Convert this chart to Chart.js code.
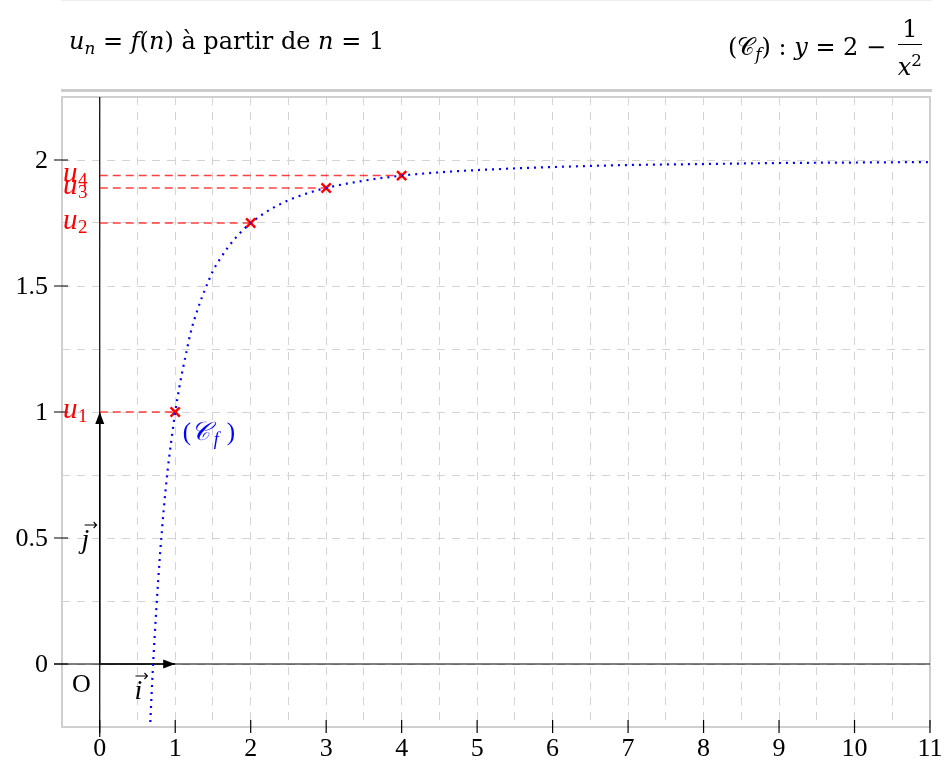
<!DOCTYPE html>
<html>
<head>
<meta charset="utf-8">
<script src="https://cdn.jsdelivr.net/npm/chart.js@4.4.0/dist/chart.umd.min.js"></script>
<style>
  body { margin: 0; background: #fff; font-family: "DejaVu Serif", serif; }
  #wrap { position: relative; width: 945px; height: 762px; overflow: hidden; }
  #myChart { position: absolute; left: 0; top: 0; }
  #head { position: absolute; left: 61px; top: 0; width: 871px; height: 88px;
          border-top: 1px solid #eee; border-bottom: 3px solid #ccc; }
  #t1 { position: absolute; left: 8px; top: 26px; font-size: 24px; }
  #t2 { position: absolute; right: 10px; top: 13px; font-size: 24px; white-space: nowrap; }
  sub { font-size: 70%; vertical-align: -0.3em; }
  .frac { display: inline-block; vertical-align: middle; text-align: center; margin-left: 4px; }
  .frac span { display: block; line-height: 30px; }
  .frac .num { border-bottom: 1.5px solid #000; padding: 0 3px; }
</style>
</head>
<body>
<div id="wrap">
  <canvas id="myChart" width="945" height="762"></canvas>
  <div id="head">
    <div id="t1"><i>u</i><sub><i>n</i></sub> = <i>f</i>(<i>n</i>) à partir de <i>n</i> = 1</div>
    <div id="t2">(𝒞<sub><i>f</i></sub>) : <i>y</i> = 2 − <span class="frac"><span class="num">1</span><span><i>x</i><sup style="font-size:70%">2</sup></span></span></div>
  </div>
</div>
<script>
  // courbe
  const curveX = [0.67, 0.7, 0.75, 0.8, 0.85, 0.9, 0.95, 1, 1.05, 1.1, 1.15, 1.2, 1.3, 1.4, 1.5, 1.6, 1.7, 1.8, 1.9, 2,
                  2.25, 2.5, 2.75, 3, 3.5, 4, 4.5, 5, 6, 7, 8, 9, 10, 11];
  const curveY = [-0.23, -0.04, 0.22, 0.44, 0.62, 0.77, 0.89, 1, 1.09, 1.17, 1.24, 1.31, 1.41, 1.49, 1.56, 1.61, 1.654, 1.691, 1.723, 1.75,
                  1.802, 1.84, 1.868, 1.889, 1.918, 1.938, 1.951, 1.96, 1.972, 1.98, 1.984, 1.988, 1.99, 1.992];

  // termes de la suite
  const seqN = [1, 2, 3, 4];
  const seqU = [1, 1.75, 1.889, 1.938];

  const xLabels = [0, 1, 2, 3, 4, 5, 6, 7, 8, 9, 10, 11];
  const yLabels = [0, 0.5, 1, 1.5, 2];

  const serif = '"Liberation Serif", "DejaVu Serif", serif';
  const red = '#ff0000';
  const blue = '#0000ff';

  const curve = curveX.map((x, i) => ({ x: x, y: curveY[i] }));
  const pts = seqN.map((n, i) => ({ x: n, y: seqU[i] }));

  const datasets = [];
  seqN.forEach((n, i) => {
    datasets.push({
      data: [{ x: 0, y: seqU[i] }, { x: n, y: seqU[i] }],
      showLine: true, borderColor: 'rgba(255,0,0,0.75)', borderWidth: 1.5,
      borderDash: [8, 5], pointRadius: 0
    });
  });
  datasets.push({
    data: curve, showLine: true, borderColor: blue, borderWidth: 2.2,
    borderDash: [2, 5], pointRadius: 0, cubicInterpolationMode: 'monotone'
  });
  datasets.push({
    data: pts, showLine: false, pointStyle: 'crossRot', pointRadius: 6.5,
    borderColor: red, pointBorderWidth: 2.5, borderWidth: 2.5
  });

  function arrow(ctx, x0, y0, x1, y1) {
    const a = Math.atan2(y1 - y0, x1 - x0);
    ctx.beginPath(); ctx.moveTo(x0, y0); ctx.lineTo(x1, y1); ctx.stroke();
    ctx.beginPath();
    ctx.moveTo(x1, y1);
    ctx.lineTo(x1 - 12 * Math.cos(a) + 4.5 * Math.sin(a), y1 - 12 * Math.sin(a) - 4.5 * Math.cos(a));
    ctx.lineTo(x1 - 12 * Math.cos(a) - 4.5 * Math.sin(a), y1 - 12 * Math.sin(a) + 4.5 * Math.cos(a));
    ctx.closePath(); ctx.fill();
  }

  const repere = {
    id: 'repere',
    beforeDatasetsDraw(chart) {
      const { ctx, chartArea: a, scales: { x, y } } = chart;
      ctx.save();
      // cadre
      ctx.strokeStyle = '#cfcfcf'; ctx.lineWidth = 2;
      ctx.strokeRect(a.left, a.top, a.right - a.left, a.bottom - a.top);
      // axes
      ctx.strokeStyle = '#000'; ctx.fillStyle = '#000'; ctx.lineWidth = 1.2;
      ctx.beginPath();
      ctx.moveTo(x.getPixelForValue(0), a.top); ctx.lineTo(x.getPixelForValue(0), a.bottom + 10);
      ctx.moveTo(a.left - 8, y.getPixelForValue(0)); ctx.lineTo(a.right, y.getPixelForValue(0));
      ctx.stroke();
      // graduations et étiquettes
      ctx.font = '26px ' + serif;
      ctx.beginPath();
      ctx.textAlign = 'center'; ctx.textBaseline = 'middle';
      xLabels.forEach(v => {
        const px = x.getPixelForValue(v);
        ctx.moveTo(px, a.bottom - 7); ctx.lineTo(px, a.bottom + 6);
        ctx.fillText(String(v), px, a.bottom + 22);
      });
      ctx.textAlign = 'right';
      yLabels.forEach(v => {
        const py = y.getPixelForValue(v);
        ctx.moveTo(a.left - 8, py); ctx.lineTo(a.left + 6, py);
        ctx.fillText(String(v), a.left - 14, py + 1);
      });
      ctx.stroke();
      // vecteurs i et j
      ctx.lineWidth = 1.5;
      arrow(ctx, x.getPixelForValue(0), y.getPixelForValue(0), x.getPixelForValue(1), y.getPixelForValue(0));
      arrow(ctx, x.getPixelForValue(0), y.getPixelForValue(0), x.getPixelForValue(0), y.getPixelForValue(1));
      ctx.restore();
    },
    afterDatasetsDraw(chart) {
      const { ctx, scales: { x, y } } = chart;
      ctx.save();
      ctx.textBaseline = 'alphabetic';
      // u_n
      ctx.fillStyle = red;
      seqU.forEach((u, i) => {
        const py = y.getPixelForValue(u);
        ctx.font = 'italic 29px ' + serif;
        ctx.fillText('u', 63, py + 6);
        ctx.font = '19px ' + serif;
        ctx.fillText(String(seqN[i]), 78, py + 10);
      });
      // (C_f)
      ctx.fillStyle = blue;
      const cx = x.getPixelForValue(1.1), cy = y.getPixelForValue(0.89);
      ctx.font = '25px ' + serif;
      ctx.fillText('(', cx, cy);
      ctx.font = 'italic 26px ' + serif;
      ctx.fillText('𝒞', cx + 8, cy);
      ctx.font = 'italic 18px ' + serif;
      ctx.fillText('f', cx + 31, cy + 5);
      ctx.font = '25px ' + serif;
      ctx.fillText(')', cx + 44, cy);
      // O, i, j
      ctx.fillStyle = '#000';
      ctx.font = '26px ' + serif;
      ctx.fillText('O', 72, y.getPixelForValue(0) + 28);
      ctx.font = 'italic 28px ' + serif;
      const ix = x.getPixelForValue(0.46), iy = y.getPixelForValue(0) + 35;
      ctx.fillText('i', ix, iy);
      const jx = x.getPixelForValue(-0.24), jy = y.getPixelForValue(0.5) + 10;
      ctx.fillText('j', jx, jy);
      ctx.strokeStyle = '#000'; ctx.lineWidth = 1.1;
      ctx.beginPath();
      ctx.moveTo(ix + 1, iy - 23); ctx.lineTo(ix + 13, iy - 23);
      ctx.moveTo(ix + 10, iy - 26); ctx.lineTo(ix + 13, iy - 23); ctx.lineTo(ix + 10, iy - 20);
      ctx.moveTo(jx + 3, jy - 23); ctx.lineTo(jx + 15, jy - 23);
      ctx.moveTo(jx + 12, jy - 26); ctx.lineTo(jx + 15, jy - 23); ctx.lineTo(jx + 12, jy - 20);
      ctx.stroke();
      ctx.restore();
    }
  };

  const ctx = document.getElementById('myChart');

  new Chart(ctx, {
    type: 'scatter',
    data: { datasets: datasets },
    options: {
      responsive: false,
      animation: false,
      events: [],
      layout: { padding: { left: 62, right: 15, top: 97, bottom: 35 } },
      plugins: { legend: { display: false }, tooltip: { enabled: false } },
      scales: {
        x: {
          type: 'linear', min: -0.5, max: 11,
          afterFit: s => { s.height = 0; },
          ticks: { stepSize: 0.5, display: false, autoSkip: false },
          grid: { color: '#d4d4d4', lineWidth: 1, drawTicks: false },
          border: { display: false, dash: [8, 7] }
        },
        y: {
          type: 'linear', min: -0.25, max: 2.25,
          afterFit: s => { s.width = 0; },
          ticks: { stepSize: 0.25, display: false, autoSkip: false },
          grid: { color: '#d4d4d4', lineWidth: 1, drawTicks: false },
          border: { display: false, dash: [8, 7] }
        }
      }
    },
    plugins: [repere]
  });
</script>
</body>
</html>
